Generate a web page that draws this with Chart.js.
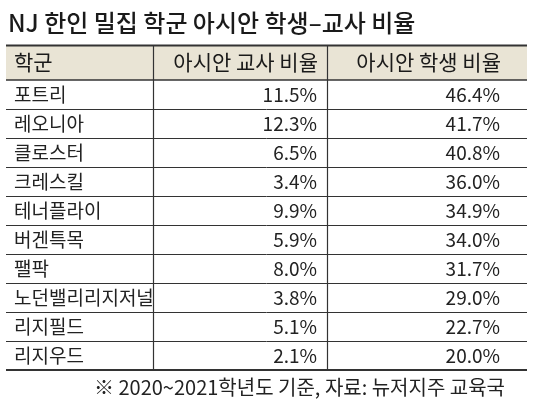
<!DOCTYPE html>
<html><head><meta charset="utf-8">
<script src="https://cdn.jsdelivr.net/npm/chart.js@4"></script>
<style>html,body{margin:0;padding:0;background:#fff}canvas{display:block}</style>
</head><body>
<canvas id="c" width="534" height="405"></canvas>
<script>
const title = "NJ 한인 밀집 학군 아시안 학생–교사 비율";
const headers = ["학군", "아시안 교사 비율", "아시안 학생 비율"];
const schools = ["포트리","레오니아","클로스터","크레스킬","테너플라이","버겐특목","팰팍","노던밸리리지저널","리지필드","리지우드"];
const teacherPct = [11.5,12.3,6.5,3.4,9.9,5.9,8.0,3.8,5.1,2.1];
const studentPct = [46.4,41.7,40.8,36.0,34.9,34.0,31.7,29.0,22.7,20.0];
const note = "※ 2020~2021학년도 기준, 자료: 뉴저지주 교육국";

const F = '"Noto Sans CJK KR","Noto Sans",sans-serif';
const tablePlugin = {
  id: 'table',
  afterDraw(chart) {
    const ctx = chart.ctx, a = chart.chartArea, y = chart.scales.y;
    const L = a.left, R = a.right, c1 = 153, c2 = 327;
    const hTop = 45, hBot = a.top;
    ctx.save();
    ctx.fillStyle = '#e9e4d5';
    ctx.fillRect(L, hTop, R - L, hBot - hTop);
    ctx.fillStyle = '#1a1a1a';
    ctx.font = '500 24px ' + F;
    ctx.textBaseline = 'middle';
    ctx.textAlign = 'left';
    ctx.fillText(title, 8, 23);
    ctx.font = '21px ' + F;
    const hy = (hTop + hBot) / 2;
    ctx.fillText(headers[0], 14, hy);
    ctx.textAlign = 'right';
    ctx.fillText(headers[1], c2 - 9, hy);
    ctx.fillText(headers[2], R - 26, hy);
    ctx.font = '19px ' + F;
    ctx.fillStyle = '#222';
    const band = (a.bottom - a.top) / schools.length;
    schools.forEach((s, i) => {
      const py = y.getPixelForValue(i);
      ctx.textAlign = 'left';
      ctx.fillText(s, 14, py);
      ctx.textAlign = 'right';
      ctx.fillText(teacherPct[i].toFixed(1) + '%', c2 - 10, py);
      ctx.fillText(studentPct[i].toFixed(1) + '%', R - 27, py);
    });
    ctx.strokeStyle = '#333';
    const hl = (yy, w) => { ctx.lineWidth = w; ctx.beginPath(); ctx.moveTo(L, yy); ctx.lineTo(R, yy); ctx.stroke(); };
    hl(hTop + 0.5, 2);
    hl(hBot, 1.5);
    for (let i = 1; i < schools.length; i++) hl(Math.round(a.top + band * i) + 0.5, 1);
    hl(a.bottom, 2);
    ctx.lineWidth = 1.2;
    [c1, c2].forEach(x => { ctx.beginPath(); ctx.moveTo(x + 0.5, hTop); ctx.lineTo(x + 0.5, a.bottom); ctx.stroke(); });
    ctx.fillStyle = '#222';
    ctx.font = '20px ' + F;
    ctx.textAlign = 'right';
    ctx.fillText(note, R - 22, 387);
    ctx.restore();
  }
};
new Chart(document.getElementById('c'), {
  type: 'bar',
  data: { labels: schools, datasets: [{ data: studentPct, backgroundColor: 'rgba(0,0,0,0)' }] },
  options: {
    indexAxis: 'y', responsive: false, animation: false,
    layout: { padding: { top: 80, bottom: 35, left: 6, right: 7 } },
    plugins: { legend: { display: false }, tooltip: { enabled: false } },
    scales: { x: { display: false, min: 0, max: 50 }, y: { display: false } }
  },
  plugins: [tablePlugin]
});
</script>
</body></html>
